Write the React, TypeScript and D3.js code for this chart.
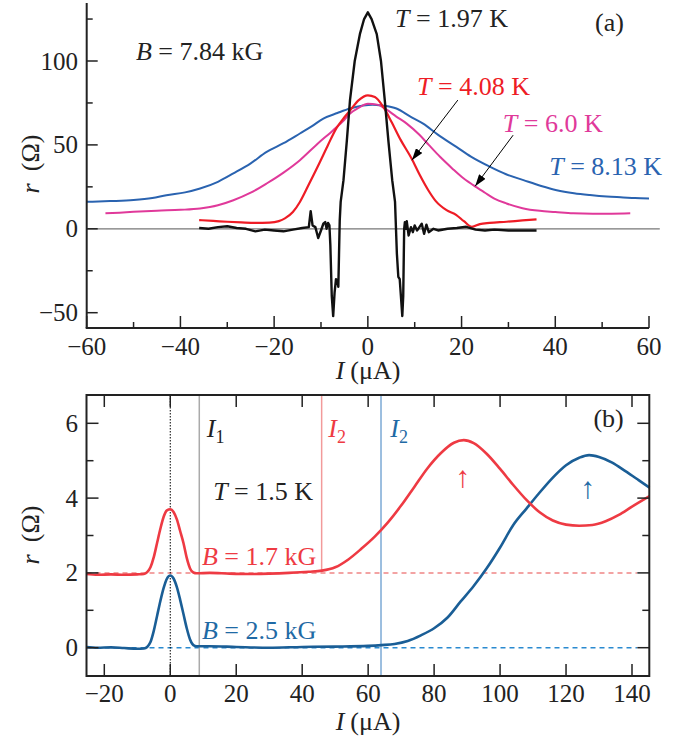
import React from 'react';
import * as d3 from 'd3';

const FONT = '"Liberation Serif", "Times New Roman", serif';

// ---------- Panel (a): B = 7.84 kG ----------
const aXTicksMajor = [-60, -40, -20, 0, 20, 40, 60];
const aXTicksMinor = [-50, -30, -10, 10, 30, 50];
const aYTicksMajor = [-50, 0, 50, 100];
const aYTicksMinor = [-25, 25, 75, 125];

const aT197: [number, number][] = [
  [-36, 0.5], [-34, 0], [-32, 1], [-30, 1.5], [-28, 0.5], [-26, 0], [-24, -1.5], [-22, -0.5], [-20, -1],
  [-18, -1.5], [-16, -0.5], [-14, 0.5], [-12.6, 1], [-12.2, 10.5], [-11.8, 2], [-11.2, 1], [-10.6, -5.5],
  [-10, -1], [-9.5, 3], [-9.1, 4], [-8.8, 0], [-8.5, 3.5], [-8.2, 2], [-8.0, -10], [-7.7, -40], [-7.4, -52],
  [-7.1, -38], [-6.8, -30], [-6.5, -31], [-6.3, -34.5], [-6.0, 5], [-5.8, 16], [-5.2, 29], [-4.5, 52],
  [-3.8, 77], [-2.8, 100], [-1.7, 116], [-0.8, 125], [0, 129], [0.8, 125], [1.9, 116], [2.8, 100],
  [3.6, 77], [4.4, 52], [5.2, 29], [5.8, 16], [6.2, -15], [6.5, -28.6], [6.8, -30], [7.1, -42], [7.35, -52],
  [7.55, -40], [7.75, 0], [7.9, 4], [8.1, 0], [8.3, 4.5], [8.7, -4], [9.2, 1], [9.6, -2], [10, 2],
  [10.5, -1], [11, 1], [11.5, 3], [12, -3], [12.5, 2.5], [13, -2], [14, 0], [15, -1], [17, 0], [19, 0.5],
  [21, 1.2], [23, -0.5], [25, -1], [27, -0.5], [30, -1], [33, -1], [36, -1],
];

const aT408: [number, number][] = [
  [-36, 5.2], [-33, 4.7], [-30, 4.2], [-27, 3.8], [-24, 3.5], [-21, 3.7], [-19, 4.6], [-17.7, 6.2],
  [-16, 10], [-14.5, 16], [-12.5, 27], [-10.2, 40], [-8.5, 50], [-6.7, 60], [-5, 66.5], [-3.8, 70.5],
  [-2, 76.5], [0, 79.5], [1.5, 78.5], [3.3, 72.6], [5, 64], [7, 53], [9.3, 42], [11, 32.5], [12.9, 23],
  [14.5, 16.5], [16.8, 11.1], [18.9, 8.2], [20.5, 4.5], [22.2, 1.2], [23.9, 2.8], [26, 3.5], [29.6, 4.2],
  [33, 5], [36, 5.6],
];

const aT60: [number, number][] = [
  [-56, 9.2], [-53, 9.6], [-50, 10.1], [-45, 10.8], [-40, 11.3], [-35.8, 12.1], [-32, 14], [-28.7, 17],
  [-25, 21.5], [-21.6, 27], [-18, 33.5], [-14.5, 40.9], [-11, 50], [-7.4, 58.8], [-5, 65], [-3.8, 68.7],
  [-2, 72], [0, 74.5], [2, 74], [4, 71], [6, 67], [8.3, 62.7], [11, 56], [13, 50], [15.4, 42.9], [18, 36],
  [20, 31], [22.5, 26], [25, 21.5], [27, 18], [29.6, 15.1], [33, 12.3], [36.7, 10.7], [40, 10],
  [43.8, 9.2], [48, 9], [52, 9], [56, 9.2],
];

const aT813: [number, number][] = [
  [-60, 16.1], [-55, 16.5], [-50, 17.1], [-46, 18.3], [-43, 20], [-39, 21.7], [-35.8, 24], [-32, 28],
  [-28.7, 33], [-25, 39], [-21.6, 45.8], [-18, 51], [-14.5, 56.8], [-12, 61], [-9.5, 65.7], [-6.5, 69],
  [-3.8, 71.7], [-1, 73.5], [1, 74], [3, 73.5], [6.1, 71.7], [9, 67], [11.8, 62.7], [15, 56], [18.9, 48.8],
  [22, 43], [26.1, 36.9], [29.5, 32.5], [33.2, 29], [37, 25.5], [40.3, 23], [44, 21.2], [47.4, 20.1],
  [51, 19.2], [54.5, 18.7], [57, 18.3], [60, 18.1],
];

// ---------- Panel (b): T = 1.5 K ----------
const bXTicks = [-20, 0, 20, 40, 60, 80, 100, 120, 140];
const bYTicksMajor = [0, 2, 4, 6];
const bYTicksMinor = [1, 3, 5];
const bMarkers = { I1: 8.8, I2red: 45.9, I2blue: 63.9 };

const bB17: [number, number][] = [
  [-25.5, 1.97], [-22, 1.95], [-18, 1.96], [-14, 1.95], [-10, 1.96], [-8, 1.97], [-7, 2.02], [-6, 2.15],
  [-5, 2.42], [-4, 2.8], [-3, 3.18], [-2, 3.5], [-1, 3.67], [0, 3.7], [1, 3.63], [2, 3.43], [3, 3.12],
  [4, 2.8], [5, 2.4], [6, 2.12], [7, 2.01], [8, 1.99], [12, 2.0], [18, 1.98], [24, 1.97], [30, 1.98],
  [36, 2.0], [42, 2.03], [46, 2.06], [50, 2.15], [54, 2.36], [58, 2.65], [62, 2.97], [66, 3.35], [70, 3.8],
  [74, 4.3], [78, 4.8], [82, 5.2], [86, 5.48], [89, 5.55], [92, 5.47], [96, 5.18], [100, 4.78], [104, 4.35],
  [108, 3.95], [112, 3.62], [116, 3.4], [120, 3.29], [124, 3.26], [128, 3.28], [132, 3.38], [136, 3.55],
  [140, 3.77], [145.3, 4.05],
];

const bB25: [number, number][] = [
  [-25.5, 0.02], [-22, 0.0], [-18, 0.01], [-14, -0.01], [-10, -0.03], [-8, -0.02], [-7, 0.02], [-6, 0.15],
  [-5, 0.45], [-4, 0.85], [-3, 1.25], [-2, 1.6], [-1, 1.85], [0, 1.93], [1, 1.85], [2, 1.62], [3, 1.28],
  [4, 0.9], [5, 0.52], [6, 0.22], [7, 0.07], [8, 0.04], [12, 0.04], [20, 0.02], [30, 0.0], [40, 0.02],
  [50, 0.03], [60, 0.05], [64, 0.07], [68, 0.1], [72, 0.18], [76, 0.33], [80, 0.52], [84, 0.8], [88, 1.23],
  [92, 1.65], [96, 2.13], [100, 2.68], [104, 3.28], [108, 3.72], [112, 4.15], [116, 4.55], [120, 4.88],
  [124, 5.08], [127, 5.15], [130, 5.1], [134, 4.95], [138, 4.72], [142, 4.48], [145.3, 4.28],
];

const C = {
  black: '#111111',
  redA: '#ee1c25',
  magenta: '#e0399a',
  blueA: '#2a63b0',
  redB: '#ee3a43',
  blueB: '#1a5e96',
  blueText: '#1f6aa5',
  redDash: '#f08585',
  blueDash: '#2a8ad0',
  axis: '#222222',
};

const TICK_FS = 25;
const ANN_FS = 26;

export default function App() {
  // Panel (a) scales
  const xA = d3.scaleLinear().domain([-60, 60]).range([86.7, 649]);
  const yA = d3.scaleLinear().domain([-50, 100]).range([312.7, 61]);
  const aBottom = 328;
  const aTop = 3;
  const aLeft = 86.7;

  // Panel (b) scales
  const xB = d3.scaleLinear().domain([-20, 140]).range([104.3, 632]);
  const yB = d3.scaleLinear().domain([0, 6]).range([647.7, 423.3]);
  const bL = 86.5, bR = 649.3, bT = 395, bBot = 676;

  const lineA = d3.line<[number, number]>().x(d => xA(d[0])).y(d => yA(d[1])).curve(d3.curveMonotoneX);
  const lineALin = d3.line<[number, number]>().x(d => xA(d[0])).y(d => yA(d[1]));
  const lineB = d3.line<[number, number]>().x(d => xB(d[0])).y(d => yB(d[1])).curve(d3.curveMonotoneX);

  const txt = (x: number, y: number, color: string, parts: React.ReactNode, fs = ANN_FS, anchor = 'start') => (
    <text x={x} y={y} fill={color} fontSize={fs} fontFamily={FONT} textAnchor={anchor}>{parts}</text>
  );
  const fmt = (t: number) => (t < 0 ? '\u2212' + Math.abs(t) : String(t));

  return (
    <svg width={697} height={738} style={{ position: 'absolute', left: 0, top: 0, background: '#fff' }}>
      <defs>
        <marker id="ah" viewBox="0 0 12 8" refX="12" refY="4" markerWidth="12" markerHeight="8" markerUnits="userSpaceOnUse" orient="auto">
          <path d="M0,0 L12,4 L0,8 Z" fill="#000" />
        </marker>
      </defs>

      {/* ---------------- Panel (a) ---------------- */}
      <line x1={aLeft} x2={xA(62.3)} y1={yA(0)} y2={yA(0)} stroke="#777" strokeWidth={1.2} />
      <path d={lineA(aT813) || ''} fill="none" stroke={C.blueA} strokeWidth={2} />
      <path d={lineA(aT60) || ''} fill="none" stroke={C.magenta} strokeWidth={2} />
      <path d={lineA(aT408) || ''} fill="none" stroke={C.redA} strokeWidth={2.2} />
      <path d={lineALin(aT197) || ''} fill="none" stroke={C.black} strokeWidth={2.4} strokeLinejoin="round" />

      {/* axes */}
      <line x1={aLeft} x2={aLeft} y1={aTop} y2={aBottom} stroke={C.axis} strokeWidth={2} />
      <line x1={aLeft - 1} x2={649} y1={aBottom} y2={aBottom} stroke={C.axis} strokeWidth={2} />
      {aXTicksMajor.map(t => (
        <g key={'axM' + t}>
          <line x1={xA(t)} x2={xA(t)} y1={aBottom} y2={aBottom - 12} stroke={C.axis} strokeWidth={1.5} />
          <text x={xA(t)} y={355} textAnchor="middle" fontSize={TICK_FS} fontFamily={FONT} fill="#222">{fmt(t)}</text>
        </g>
      ))}
      {aXTicksMinor.map(t => (
        <line key={'axm' + t} x1={xA(t)} x2={xA(t)} y1={aBottom} y2={aBottom - 6} stroke={C.axis} strokeWidth={1.5} />
      ))}
      {aYTicksMajor.map(t => (
        <g key={'ayM' + t}>
          <line x1={aLeft} x2={aLeft + 11} y1={yA(t)} y2={yA(t)} stroke={C.axis} strokeWidth={1.5} />
          <text x={78} y={yA(t) + 8.5} textAnchor="end" fontSize={TICK_FS} fontFamily={FONT} fill="#222">{fmt(t)}</text>
        </g>
      ))}
      {aYTicksMinor.map(t => (
        <line key={'aym' + t} x1={aLeft} x2={aLeft + 6} y1={yA(t)} y2={yA(t)} stroke={C.axis} strokeWidth={1.5} />
      ))}

      {/* axis labels (a) */}
      <text x={368} y={379} textAnchor="middle" fontSize={ANN_FS} fontFamily={FONT} fill="#222">
        <tspan fontStyle="italic">I</tspan><tspan dx={6}>(μA)</tspan>
      </text>
      <text transform={`translate(39,${164}) rotate(-90)`} textAnchor="middle" fontSize={ANN_FS} fontFamily={FONT} fill="#222">
        <tspan fontStyle="italic">r</tspan><tspan dx={12}>(Ω)</tspan>
      </text>

      {/* annotations (a) */}
      {txt(xA(-49.5), yA(100.5), '#222', <><tspan fontStyle="italic">B</tspan> = 7.84 kG</>)}
      {txt(xA(5.8), yA(120.2), '#222', <><tspan fontStyle="italic">T</tspan> = 1.97 K</>)}
      {txt(xA(48.5), yA(117.8), '#222', '(a)')}
      {txt(xA(10.5), yA(79.7), C.redA, <><tspan fontStyle="italic">T</tspan> = 4.08 K</>)}
      {txt(xA(28.8), yA(57.6), C.magenta, <><tspan fontStyle="italic">T</tspan> = 6.0 K</>)}
      {txt(xA(38.7), yA(32), C.blueA, <><tspan fontStyle="italic">T</tspan> = 8.13 K</>)}
      <line x1={xA(19.2)} y1={yA(76.7)} x2={xA(9.4)} y2={yA(40.9)} stroke="#000" strokeWidth={1} markerEnd="url(#ah)" />
      <line x1={xA(31.0)} y1={yA(55.8)} x2={xA(22.9)} y2={yA(25.4)} stroke="#000" strokeWidth={1} markerEnd="url(#ah)" />

      {/* ---------------- Panel (b) ---------------- */}
      <line x1={bL} x2={xB(141.5)} y1={yB(2)} y2={yB(2)} stroke={C.redDash} strokeWidth={1.5} strokeDasharray="5,4" />
      <line x1={bL} x2={xB(141.5)} y1={yB(0)} y2={yB(0)} stroke={C.blueDash} strokeWidth={1.5} strokeDasharray="5,4" />
      <line x1={xB(0)} x2={xB(0)} y1={bT} y2={bBot} stroke="#000" strokeWidth={1} strokeDasharray="1.5,1.5" />
      <line x1={xB(bMarkers.I1)} x2={xB(bMarkers.I1)} y1={bT} y2={bBot} stroke="#aaaaaa" strokeWidth={1.5} />
      <line x1={xB(bMarkers.I2red)} x2={xB(bMarkers.I2red)} y1={bT} y2={yB(2.06)} stroke="#f29a9a" strokeWidth={1.5} />
      <line x1={xB(bMarkers.I2blue)} x2={xB(bMarkers.I2blue)} y1={bT} y2={bBot} stroke="#3a7fc0" strokeWidth={1} />

      <path d={lineB(bB25) || ''} fill="none" stroke={C.blueB} strokeWidth={2.6} />
      <path d={lineB(bB17) || ''} fill="none" stroke={C.redB} strokeWidth={2.6} />

      {/* frame */}
      <rect x={bL} y={bT} width={bR - bL} height={bBot - bT} fill="none" stroke={C.axis} strokeWidth={2} />
      {bXTicks.map(t => (
        <g key={'bx' + t}>
          <line x1={xB(t)} x2={xB(t)} y1={bBot} y2={bBot - 12} stroke={C.axis} strokeWidth={1.5} />
          <line x1={xB(t)} x2={xB(t)} y1={bT} y2={bT + 12} stroke={C.axis} strokeWidth={1.5} />
          <text x={xB(t)} y={702} textAnchor="middle" fontSize={TICK_FS} fontFamily={FONT} fill="#222">{fmt(t)}</text>
        </g>
      ))}
      {bYTicksMajor.map(t => (
        <g key={'byM' + t}>
          <line x1={bL} x2={bL + 12} y1={yB(t)} y2={yB(t)} stroke={C.axis} strokeWidth={1.5} />
          <line x1={bR} x2={bR - 12} y1={yB(t)} y2={yB(t)} stroke={C.axis} strokeWidth={1.5} />
          <text x={78} y={yB(t) + 8.5} textAnchor="end" fontSize={TICK_FS} fontFamily={FONT} fill="#222">{t}</text>
        </g>
      ))}
      {bYTicksMinor.map(t => (
        <g key={'bym' + t}>
          <line x1={bL} x2={bL + 7} y1={yB(t)} y2={yB(t)} stroke={C.axis} strokeWidth={1.5} />
          <line x1={bR} x2={bR - 7} y1={yB(t)} y2={yB(t)} stroke={C.axis} strokeWidth={1.5} />
        </g>
      ))}

      {/* axis labels (b) */}
      <text x={368} y={730} textAnchor="middle" fontSize={ANN_FS} fontFamily={FONT} fill="#222">
        <tspan fontStyle="italic">I</tspan><tspan dx={6}>(μA)</tspan>
      </text>
      <text transform={`translate(39,${535}) rotate(-90)`} textAnchor="middle" fontSize={ANN_FS} fontFamily={FONT} fill="#222">
        <tspan fontStyle="italic">r</tspan><tspan dx={12}>(Ω)</tspan>
      </text>

      {/* annotations (b) */}
      {txt(xB(11.1), yB(5.63), '#222', <><tspan fontStyle="italic">I</tspan><tspan fontSize={18} dy={6}>1</tspan></>)}
      {txt(xB(47.9), yB(5.63), C.redB, <><tspan fontStyle="italic">I</tspan><tspan fontSize={18} dy={6}>2</tspan></>)}
      {txt(xB(66.7), yB(5.63), C.blueText, <><tspan fontStyle="italic">I</tspan><tspan fontSize={18} dy={6}>2</tspan></>)}
      {txt(xB(128.3), yB(5.9), '#222', '(b)')}
      {txt(xB(13), yB(3.95), '#222', <><tspan fontStyle="italic">T</tspan> = 1.5 K</>)}
      {txt(xB(9.6), yB(2.2), C.redB, <><tspan fontStyle="italic">B</tspan> = 1.7 kG</>)}
      {txt(xB(9.6), yB(0.23), C.blueText, <><tspan fontStyle="italic">B</tspan> = 2.5 kG</>)}
      {txt(xB(88.7), yB(4.3), C.redB, '↑', 30, 'middle')}
      {txt(xB(126.6), yB(4.0), C.blueText, '↑', 30, 'middle')}
    </svg>
  );
}
